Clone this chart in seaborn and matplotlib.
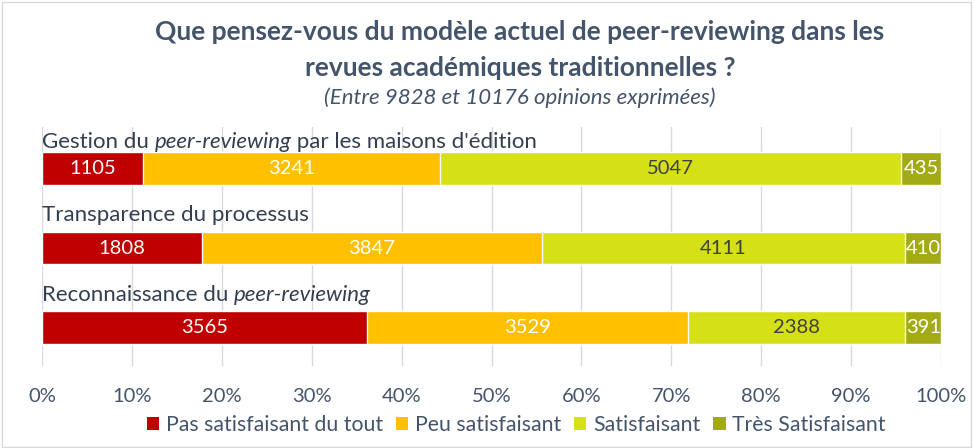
import pandas as pd
import matplotlib.pyplot as plt
import seaborn as sns
from matplotlib.patches import Patch, Rectangle
from matplotlib.ticker import PercentFormatter

# data
categories = ["Gestion", "Transparence", "Reconnaissance"]
label_parts = [
    [("Gestion du ", "normal"), ("peer-reviewing", "italic"), (" par les maisons d'édition", "normal")],
    [("Transparence du processus", "normal")],
    [("Reconnaissance du ", "normal"), ("peer-reviewing", "italic")],
]
series_names = ["Pas satisfaisant du tout", "Peu satisfaisant", "Satisfaisant", "Très Satisfaisant"]
pas_satisfaisant = [1105, 1808, 3565]
peu_satisfaisant = [3241, 3847, 3529]
satisfaisant = [5047, 4111, 2388]
tres_satisfaisant = [435, 410, 391]

colors = ["#C00000", "#FFC000", "#D6E016", "#A3AB14"]
label_colors = ["white", "white", "#404040", "white"]
text_color = "#44546A"

df = pd.DataFrame({
    "categorie": categories,
    series_names[0]: pas_satisfaisant,
    series_names[1]: peu_satisfaisant,
    series_names[2]: satisfaisant,
    series_names[3]: tres_satisfaisant,
})
counts = df[series_names]
shares = counts.div(counts.sum(axis=1), axis=0)
cum = shares.cumsum(axis=1)

sns.set_theme(style="white")
plt.rcParams['font.family'] = ['Lato', 'DejaVu Sans']
fig = plt.figure(figsize=(9.73, 4.48), dpi=100)
ax = fig.add_axes([42 / 973, 1 - 366 / 448, 899 / 973, 239 / 448])

# stacked bars: draw cumulative totals from the longest to the shortest
for i in range(len(series_names) - 1, -1, -1):
    sns.barplot(x=cum.iloc[:, i], y=df["categorie"], orient="h", color=colors[i],
                width=0.41, saturation=1, ax=ax, zorder=2)

# value labels centred in each segment
for r in range(len(categories)):
    for i, name in enumerate(series_names):
        left = cum.iloc[r, i] - shares.iloc[r, i]
        ax.text(left + shares.iloc[r, i] / 2, r, str(counts.iloc[r, i]),
                ha="center", va="center", color=label_colors[i], fontsize=14.5, zorder=3)

ax.set_xlim(0, 1)
ax.set_ylim(2.48, -0.52)
ax.set_xticks([i / 10 for i in range(11)])
ax.xaxis.set_major_formatter(PercentFormatter(1, decimals=0))
ax.set_yticks([])
ax.set_xlabel("")
ax.set_ylabel("")
ax.tick_params(axis="x", length=0, pad=16, labelsize=14.5, labelcolor=text_color)
ax.grid(axis="x", color="#D9D9D9", lw=1, zorder=0)
ax.set_axisbelow(True)
for s in ax.spines.values():
    s.set_visible(False)

# category labels above the bars, with italic parts
fig.canvas.draw()
renderer = fig.canvas.get_renderer()
offsets = [0.0, 0.08, 0.08]
for r, parts in enumerate(label_parts):
    dx = 0.0
    for txt, style in parts:
        t = ax.annotate(txt, xy=(0, r - 0.205 - offsets[r]), xycoords="data",
                        xytext=(dx, 0), textcoords="offset points",
                        ha="left", va="bottom", fontsize=16, style=style, color="#333F50")
        w = t.get_window_extent(renderer).width
        dx += w * 72 / fig.dpi

# titles
fig.text(520 / 973, 1 - 32 / 448, "Que pensez-vous du modèle actuel de peer-reviewing dans les",
         ha="center", va="center", fontsize=19, fontweight="bold", color=text_color)
fig.text(520 / 973, 1 - 68 / 448, "revues académiques traditionnelles ?",
         ha="center", va="center", fontsize=19, fontweight="bold", color=text_color)
fig.text(520 / 973, 1 - 98 / 448, "(Entre 9828 et 10176 opinions exprimées)",
         ha="center", va="center", fontsize=16, style="italic", color=text_color)

handles = [Patch(facecolor=c, edgecolor="none") for c in colors]
fig.legend(handles, series_names, loc="center", bbox_to_anchor=(516 / 973, 1 - 425 / 448),
           ncol=4, frameon=False, fontsize=15.3, handlelength=0.6, handleheight=0.6,
           handletextpad=0.3, columnspacing=0.6, labelcolor=text_color)

fig.patches.append(Rectangle((0.002, 0.002), 0.996, 0.994, transform=fig.transFigure,
                             fill=False, edgecolor="#D9D9D9", lw=1))

fig.savefig("out.png", dpi=100)
